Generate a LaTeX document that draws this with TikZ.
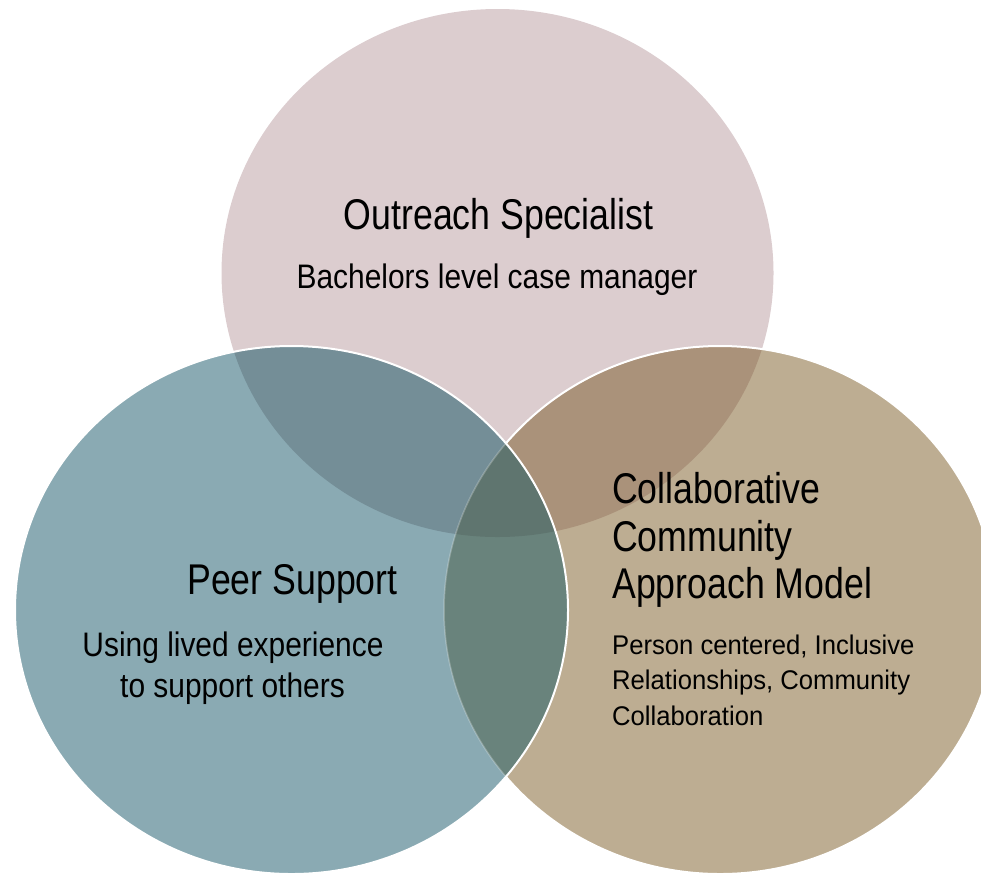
\documentclass[tikz,border=0pt]{standalone}
\usepackage{fontspec}
\setmainfont{Liberation Sans}
\newfontfamily\fontTitle[FakeStretch=0.83]{Liberation Sans}
\newfontfamily\fontMid[FakeStretch=0.88]{Liberation Sans}
\newfontfamily\fontSmall[FakeStretch=0.95]{Liberation Sans}
\definecolor{pinkc}{HTML}{DCCDCF}
\definecolor{tealc}{HTML}{8AAAB3}
\definecolor{tanc}{HTML}{BDAD92}
\definecolor{topleftc}{HTML}{748E97}
\definecolor{toprightc}{HTML}{AA927A}
\definecolor{lensc}{HTML}{69837C}
\definecolor{triplec}{HTML}{5F756F}
\def\ellT{(497.5,273) ellipse [x radius=276pt, y radius=264pt]}
\def\ellL{(291.5,610) ellipse [x radius=276.5pt, y radius=264pt]}
\def\ellR{(720,610) ellipse [x radius=276pt, y radius=264pt]}
\begin{document}
\begin{tikzpicture}[x=1pt,y=-1pt,
  titletext/.style={inner sep=0pt, anchor=base, text=black, font=\fontTitle\fontsize{43}{43}\selectfont},
  midtext/.style={inner sep=0pt, anchor=base, text=black, font=\fontMid\fontsize{34}{34}\selectfont},
  smalltext/.style={inner sep=0pt, anchor=base west, text=black, font=\fontSmall\fontsize{27}{27}\selectfont},
  rim/.style={draw=white, line width=2pt}]
\useasboundingbox (0,0) rectangle (981,879);
% top circle
\fill[pinkc] \ellT;
% right circle
\fill[tanc] \ellR;
\begin{scope}
  \clip \ellT;
  \fill[toprightc] \ellR;
\end{scope}
\draw[rim] \ellR;
% left circle
\fill[tealc] \ellL;
\begin{scope}
  \clip \ellT;
  \fill[topleftc] \ellL;
\end{scope}
\begin{scope}
  \clip \ellR;
  \fill[lensc] \ellL;
\end{scope}
\begin{scope}
  \clip \ellT;
  \clip \ellR;
  \fill[triplec] \ellL;
\end{scope}
\begin{scope}
  \clip \ellL;
  \draw[draw=white, draw opacity=0.25, line width=1.5pt] \ellR;
\end{scope}
\draw[rim] \ellL;
% texts
\node[titletext] (os) at (498.5,229) {Outreach Specialist};
\node[midtext] (osd) at (497,288) {Bachelors level case manager};
\node[titletext] (ps) at (292.5,594) {Peer Support};
\node[midtext] (psd1) at (233,656) {Using lived experience};
\node[midtext] (psd2) at (232.5,697) {to support others};
\node[titletext, anchor=base west] (cc1) at (612,503) {Collaborative};
\node[titletext, anchor=base west] (cc2) at (612,551) {Community};
\node[titletext, anchor=base west] (cc3) at (612,598) {Approach Model};
\node[smalltext] (ccd1) at (612,654) {Person centered, Inclusive};
\node[smalltext] (ccd2) at (612,689) {Relationships, Community};
\node[smalltext] (ccd3) at (612,725) {Collaboration};
\end{tikzpicture}
\end{document}
